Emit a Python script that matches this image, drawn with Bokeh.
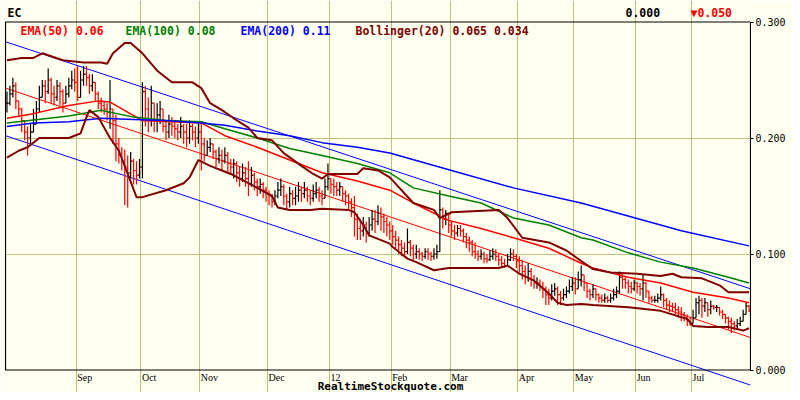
from bokeh.plotting import figure
from bokeh.models import (Range1d, FixedTicker, Label, LabelSet, ColumnDataSource,
                          NumeralTickFormatter)
from bokeh.embed import file_html
from bokeh.resources import INLINE

# prices in thousandths of a dollar, one per trading day
closes = [
    230, 238, 245, 232, 225, 215, 205, 200, 205, 212,
    225, 235, 245, 240, 250, 238, 235, 245, 240, 230,
    238, 245, 250, 248, 235, 250, 255, 252, 245, 248,
    238, 230, 228, 225, 222, 225, 215, 195, 185, 180,
    175, 170, 180, 172, 168, 175, 240, 225, 215, 230,
    215, 220, 225, 210, 205, 212, 210, 208, 205, 210,
    205, 200, 210, 205, 200, 205, 195, 185, 192, 195,
    188, 182, 185, 180, 185, 178, 175, 178, 170, 165,
    170, 165, 160, 168, 162, 158, 160, 155, 152, 150,
    145, 150, 155, 158, 150, 145, 152, 148, 150, 155,
    152, 155, 150, 148, 152, 155, 150, 148, 158, 165,
    160, 158, 155, 158, 152, 150, 145, 140, 130, 122,
    120, 125, 118, 125, 130, 128, 135, 132, 128, 125,
    120, 115, 112, 108, 105, 102, 110, 105, 100, 102,
    100, 98, 102, 100, 98, 100, 102, 138, 130, 135,
    125, 120, 118, 122, 120, 115, 112, 110, 102, 100,
    98, 100, 96, 95, 98, 100, 98, 95, 92, 90,
    95, 100, 98, 94, 90, 85, 80, 85, 78, 75,
    75, 72, 70, 65, 62, 68, 70, 65, 62, 65,
    68, 72, 75, 70, 78, 82, 75, 68, 65, 70,
    65, 62, 60, 62, 60, 62, 65, 68, 80, 78,
    75, 72, 70, 75, 72, 70, 75, 68, 62, 60,
    60, 62, 65, 60, 56, 55, 54, 52, 50, 48,
    45, 42, 40, 45, 58, 60, 55, 58, 52, 55,
    54, 54, 50, 48, 45, 42, 40, 38, 40, 42,
    48, 55, 51,
]
highs = [
    240, 245, 252, 248, 232, 226, 215, 210, 212, 225,
    232, 245, 250, 250, 260, 252, 245, 250, 248, 242,
    245, 252, 258, 260, 262, 258, 262, 262, 255, 255,
    248, 240, 235, 232, 230, 250, 225, 220, 200, 192,
    190, 185, 188, 182, 180, 182, 248, 245, 235, 245,
    228, 230, 232, 225, 215, 220, 218, 215, 212, 218,
    212, 212, 215, 212, 210, 212, 212, 200, 198, 200,
    195, 190, 192, 190, 192, 188, 182, 182, 180, 175,
    178, 175, 180, 175, 170, 165, 165, 162, 158, 155,
    152, 155, 162, 165, 160, 152, 158, 155, 158, 162,
    158, 162, 158, 155, 160, 162, 158, 155, 165, 178,
    165, 165, 162, 162, 158, 155, 152, 148, 150, 135,
    130, 132, 128, 132, 138, 138, 142, 140, 135, 132,
    128, 125, 120, 115, 112, 110, 122, 112, 108, 108,
    105, 102, 105, 105, 102, 105, 108, 155, 140, 138,
    135, 128, 125, 125, 125, 122, 118, 115, 112, 110,
    103, 104, 102, 100, 103, 105, 104, 100, 98, 96,
    100, 105, 104, 100, 98, 95, 90, 92, 88, 82,
    80, 78, 76, 72, 70, 74, 75, 72, 68, 70,
    72, 78, 80, 80, 85, 90, 82, 75, 70, 74,
    68, 66, 65, 66, 64, 66, 70, 72, 85, 84,
    80, 78, 76, 78, 76, 75, 82, 76, 68, 64,
    64, 66, 72, 66, 62, 60, 58, 58, 55, 54,
    50, 48, 46, 52, 62, 64, 62, 62, 58, 60,
    56, 56, 54, 52, 48, 46, 45, 42, 44, 46,
    52, 58, 56,
]
lows = [
    222, 228, 235, 225, 218, 205, 198, 185, 195, 205,
    215, 222, 235, 230, 238, 230, 228, 232, 228, 222,
    230, 235, 242, 240, 232, 238, 245, 245, 238, 240,
    232, 225, 222, 220, 215, 208, 195, 180, 178, 172,
    142, 140, 165, 160, 160, 165, 165, 210, 205, 210,
    205, 205, 212, 205, 198, 200, 202, 200, 198, 200,
    195, 192, 195, 198, 192, 195, 172, 180, 185, 188,
    182, 175, 178, 172, 178, 170, 168, 165, 162, 158,
    162, 158, 150, 158, 155, 150, 152, 148, 145, 142,
    140, 142, 148, 150, 142, 138, 140, 142, 142, 145,
    145, 148, 145, 142, 145, 148, 145, 142, 148, 155,
    152, 150, 150, 150, 145, 142, 138, 132, 115, 112,
    112, 115, 110, 115, 120, 118, 125, 120, 118, 115,
    112, 108, 105, 100, 98, 98, 100, 98, 95, 96,
    95, 94, 96, 95, 94, 95, 96, 108, 122, 125,
    118, 115, 112, 115, 115, 110, 105, 102, 98, 96,
    94, 95, 92, 92, 94, 95, 94, 90, 88, 88,
    92, 94, 94, 88, 84, 78, 74, 76, 72, 70,
    70, 68, 62, 56, 56, 60, 64, 56, 56, 60,
    62, 66, 68, 65, 70, 72, 68, 62, 60, 62,
    60, 58, 58, 58, 58, 58, 60, 62, 66, 70,
    70, 66, 66, 68, 66, 64, 60, 62, 58, 58,
    58, 58, 60, 54, 52, 50, 50, 48, 45, 42,
    42, 38, 38, 40, 45, 48, 45, 50, 46, 48,
    52, 50, 47, 44, 40, 35, 32, 34, 35, 38,
    42, 48, 50,
]

ema50_x = [0, 9, 21, 31, 35, 46, 56, 66, 74, 85, 96, 107, 119, 130, 138, 150, 161, 172,
           184, 195, 199, 211, 222, 233, 245, 252]
ema50_v = [217, 221, 228, 232, 231, 215, 214, 213, 202, 192, 181, 170, 163, 155, 144, 129,
           122, 114, 105, 92, 88, 80, 75, 67, 62, 58]
ema100_x = [0, 21, 32, 43, 54, 66, 74, 85, 96, 107, 119, 130, 138, 150, 161, 172, 184, 195,
            199, 211, 222, 233, 245, 252]
ema100_v = [213, 219, 224, 218, 215, 214, 208, 200, 191, 185, 178, 170, 157, 150, 144, 131,
            125, 114, 112, 101, 93, 88, 80, 75]
ema200_x = [0, 9, 21, 32, 43, 54, 66, 74, 85, 96, 107, 119, 130, 151, 172, 195, 229, 252]
ema200_v = [210, 213, 214, 217, 216, 215, 213, 211, 206, 202, 196, 192, 187, 172, 157, 144,
            120, 107]
boll_up_x = [0, 5, 9, 12, 19, 26, 32, 34, 36, 40, 42, 46, 51, 56, 63, 66, 69, 73, 77, 82,
             85, 90, 94, 100, 104, 107, 109, 119, 121, 126, 130, 138, 145, 147, 151, 167,
             170, 175, 184, 190, 195, 199, 205, 214, 222, 226, 229, 236, 242, 245, 252]
boll_up_v = [267, 269, 269, 273, 267, 265, 265, 264, 273, 282, 282, 273, 258, 248, 248, 243,
             230, 224, 217, 209, 200, 198, 187, 176, 169, 165, 169, 169, 174, 172, 166, 144,
             138, 131, 136, 138, 131, 114, 110, 103, 94, 87, 84, 83, 81, 83, 80, 79, 73,
             67, 67]
boll_lo_x = [0, 4, 7, 11, 21, 25, 27, 28, 31, 35, 38, 41, 44, 46, 54, 60, 62, 65, 69, 73,
             76, 85, 90, 92, 96, 103, 107, 116, 118, 121, 123, 130, 131, 136, 139, 145, 150,
             156, 161, 167, 170, 174, 179, 184, 187, 190, 195, 199, 211, 222, 231, 233, 238,
             245, 250, 252]
boll_lo_v = [183, 189, 192, 200, 200, 204, 218, 224, 218, 200, 189, 169, 149, 149, 155, 161,
             166, 181, 176, 172, 169, 157, 150, 140, 138, 138, 139, 138, 136, 125, 116, 109,
             106, 96, 93, 86, 88, 88, 88, 88, 90, 83, 77, 66, 58, 56, 57, 56, 54, 51, 44,
             38, 37, 37, 34, 36]
chan_x = [-0.5, 252.5]
chan_upper = [283, 70]
chan_mid = [243, 28]
chan_lower = [202, -13]

month_start = [24, 46, 66, 89, 110, 131, 151, 174, 193, 214, 233]
month_labels = ["Sep", "Oct", "Nov", "Dec", "12", "Feb", "Mar", "Apr", "May", "Jun", "Jul"]
y_ticks = [0.0, 0.1, 0.2, 0.3]
x_lo, x_hi = -0.5, 252.5
y_lo, y_hi = 0.0, 0.3

BG = "#fffff0"
MONO = "DejaVu Sans Mono"


def k(vals):
    return [v / 1000 for v in vals]


n = len(closes)
xs = list(range(n))
c = k(closes)
o = [c[0]] + c[:-1]
h = [max(a, b, d) for a, b, d in zip(k(highs), o, c)]
l = [min(a, b, d) for a, b, d in zip(k(lows), o, c)]
colors = ["black" if cc >= oo else "red" for cc, oo in zip(c, o)]
src = ColumnDataSource(dict(x=xs, xl=[x - 0.5 for x in xs], xr=[x + 0.5 for x in xs],
                            o=o, h=h, l=l, c=c, color=colors))

# the frame covers the header and footer rows too, so the texts there are not clipped;
# the price box itself is drawn from x_lo..x_hi, y_lo..y_hi
px_per_val = 1160.0
p = figure(frame_width=746, frame_height=392,
           x_range=Range1d(x_lo - 0.34, x_hi),
           y_range=Range1d(y_lo - 22.5 / px_per_val, y_hi + 21.5 / px_per_val),
           x_axis_location=None, y_axis_location="right",
           output_backend="svg", toolbar_location=None, title=None,
           min_border_left=4, min_border_right=42, min_border_top=0, min_border_bottom=0)
p.background_fill_color = BG
p.border_fill_color = BG
p.outline_line_color = None

p.xgrid.ticker = FixedTicker(ticks=[m - 0.5 for m in month_start])
p.xgrid.bounds = (y_lo, y_hi)
p.ygrid.ticker = FixedTicker(ticks=y_ticks[1:-1])
p.ygrid.bounds = (x_lo, x_hi)
p.grid.grid_line_color = "#c0c080"
p.grid.grid_line_width = 1

p.yaxis.bounds = (y_lo, y_hi)
p.yaxis.ticker = FixedTicker(ticks=y_ticks)
p.yaxis.formatter = NumeralTickFormatter(format="0.000")
p.yaxis.major_tick_in = 0
p.yaxis.major_tick_out = 3
p.yaxis.minor_tick_out = 0
p.yaxis.major_label_standoff = 2
p.yaxis.axis_line_color = "black"
p.yaxis.major_label_text_font = MONO
p.yaxis.major_label_text_font_size = "10px"
p.yaxis.major_label_text_color = "black"

# regression channel (drawn past the box, as in the original)
p.line(chan_x, k(chan_upper), color="#0000ff", line_width=1)
p.line(chan_x, k(chan_lower), color="#0000ff", line_width=1)
p.line(chan_x, k(chan_mid), color="#ff0000", line_width=1)

# OHLC bars
p.segment(x0="x", y0="l", x1="x", y1="h", color="color", line_width=1.2, source=src)
p.segment(x0="xl", y0="o", x1="x", y1="o", color="color", line_width=1.2, source=src)
p.segment(x0="x", y0="c", x1="xr", y1="c", color="color", line_width=1.2, source=src)

p.line(ema50_x, k(ema50_v), color="#ff0000", line_width=1.5)
p.line(ema100_x, k(ema100_v), color="#008000", line_width=1.5)
p.line(ema200_x, k(ema200_v), color="#0000ff", line_width=1.5)
p.line(boll_up_x, k(boll_up_v), color="#800000", line_width=2)
p.line(boll_lo_x, k(boll_lo_v), color="#800000", line_width=2)

# price box border
p.quad(left=[x_lo], right=[x_hi], bottom=[y_lo], top=[y_hi], fill_color=None,
       line_color="black", line_width=1.2)

# month labels sit just right of their grid line
msrc = ColumnDataSource(dict(x=[m - 0.5 for m in month_start], text=month_labels))
p.add_layout(LabelSet(x="x", y=15, y_units="screen", text="text", source=msrc,
                      x_offset=1, text_align="left", text_baseline="middle",
                      text_font=MONO, text_font_size="10px", text_color="black"))


def label(x, y, text, color="black", bold=True, align="left", size="11.5px"):
    p.add_layout(Label(x=x, y=y, x_units="screen", y_units="screen", text=text,
                       text_color=color, text_font=MONO, text_font_size=size,
                       text_font_style="bold" if bold else "normal",
                       text_align=align, text_baseline="middle"))


label(3, 380, "EC")
label(621, 380, "0.000")
label(686, 380, "\u25bc0.050", color="#ff0000")
label(16, 362, "EMA(50) 0.06", color="#ff0000")
label(121, 362, "EMA(100) 0.08", color="#008000")
label(236, 362, "EMA(200) 0.11", color="#0000ff")
label(351, 362, "Bollinger(20) 0.065 0.034", color="#800000")
label(386, 6, "RealtimeStockquote.com", align="center", size="11px")

open("out.html", "w").write(file_html(p, INLINE))
